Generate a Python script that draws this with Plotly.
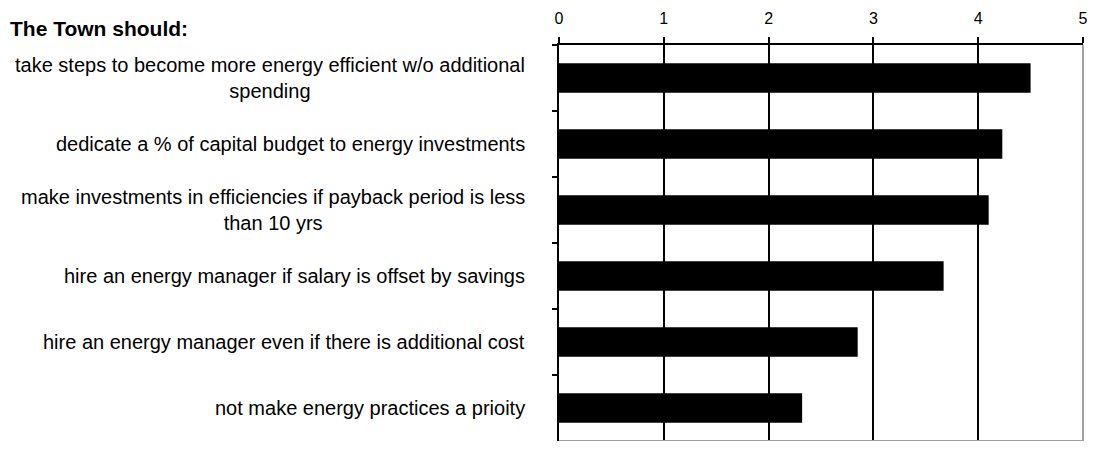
import plotly.graph_objects as go

# Etiquetas das respostas (de cima para baixo)
labels = [
    'take steps to become more energy efficient w/o additional<br>spending',
    'dedicate a % of capital budget to energy investments',
    'make investments in efficiencies if payback period is less<br>than 10 yrs',
    'hire an energy manager if salary is offset by savings',
    'hire an energy manager even if there is additional cost',
    'not make energy practices a prioity',
]
scores = [4.50, 4.23, 4.10, 3.67, 2.85, 2.32]
x_ticks = [0, 1, 2, 3, 4, 5]
title_text = '<b>The Town should:</b>'

font_family = 'Liberation Sans, Arial, sans-serif'
# o body da página tem margem de 8px: figura menor para caber sem barras de rolagem
W, H = 1080, 433
left, right, top, bottom = 551, 5, 37, 0
plot_w = W - left - right
plot_h = H - top - bottom

fig = go.Figure()
fig.add_trace(go.Bar(
    x=scores, y=labels, orientation='h',
    marker=dict(color='black', line=dict(width=0)),
    width=0.45,
))

# rótulos das categorias centralizados, como no gráfico original
for lab in labels:
    fig.add_annotation(
        x=-32 / plot_w, xref='paper', y=lab, yref='y',
        text=lab, showarrow=False, xanchor='right', align='center',
        font=dict(family=font_family, size=20, color='black'),
    )

fig.add_annotation(
    x=-left / plot_w, xref='paper', y=1 + 17 / plot_h, yref='paper',
    text=title_text, showarrow=False, xanchor='left', yanchor='middle',
    font=dict(family=font_family, size=21, color='black'),
)

# borda cinza à direita e embaixo
fig.add_shape(type='line', xref='paper', yref='paper', x0=1, x1=1, y0=0, y1=1,
              line=dict(color='#a0a0a0', width=2))
fig.add_shape(type='line', xref='paper', yref='paper', x0=0, x1=1, y0=0, y1=0,
              line=dict(color='#a0a0a0', width=2))

fig.update_layout(
    width=W, height=H,
    margin=dict(l=left, r=right, t=top, b=bottom),
    paper_bgcolor='white', plot_bgcolor='white',
    showlegend=False,
    font=dict(family=font_family, size=16, color='black'),
    xaxis=dict(
        side='top', range=[0, 5], tickvals=x_ticks,
        showgrid=True, gridcolor='black', gridwidth=2,
        showline=True, linecolor='black', linewidth=2,
        ticks='outside', ticklen=6, tickwidth=2, tickcolor='black',
        ticklabelstandoff=7, zeroline=False, automargin=False,
        tickfont=dict(family=font_family, size=16),
    ),
    yaxis=dict(
        autorange='reversed', showticklabels=False, automargin=False,
        tickson='boundaries', ticks='outside', ticklen=5, tickwidth=2, tickcolor='black',
        showline=True, linecolor='black', linewidth=2, showgrid=False,
    ),
)

fig.write_html('out.html')
